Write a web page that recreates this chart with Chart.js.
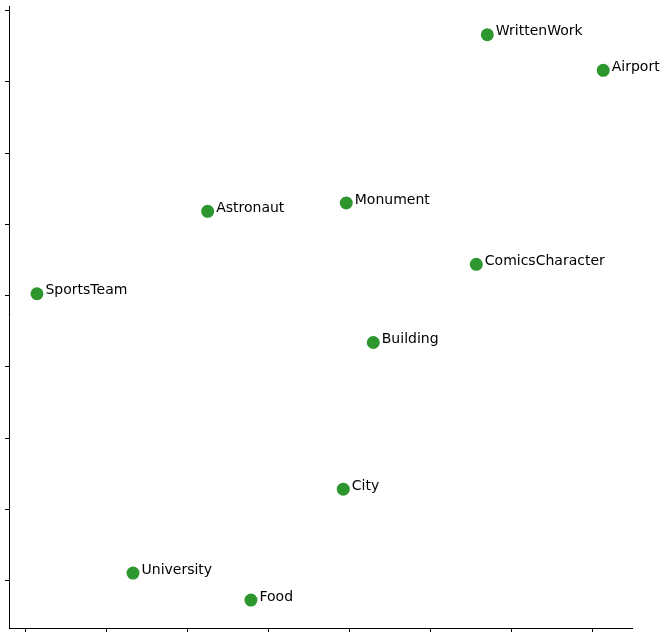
<!DOCTYPE html>
<html>
<head>
<meta charset="utf-8">
<script src="https://cdn.jsdelivr.net/npm/chart.js@4/dist/chart.umd.min.js"></script>
<style>
  html, body { margin: 0; padding: 0; background: #ffffff; }
  #wrap { width: 664px; height: 638px; }
</style>
</head>
<body>
<div id="wrap"><canvas id="c" width="664" height="638"></canvas></div>
<script>
// Data (arbitrary units; axis has no tick labels)
const categories = ["WrittenWork", "Airport", "Astronaut", "Monument", "ComicsCharacter",
                    "SportsTeam", "Building", "City", "University", "Food"];
const xValues = [5.70, 7.13, 2.25, 3.96, 5.564, 0.144, 4.293, 3.923, 1.329, 2.784];
const yValues = [7.66, 7.16, 5.182, 5.299, 4.439, 4.026, 3.342, 1.285, 0.108, -0.271];
const xTickValues = [0, 1, 2, 3, 4, 5, 6, 7];
const yTickValues = [0, 1, 2, 3, 4, 5, 6, 7, 8];

const points = categories.map((c, i) => ({ x: xValues[i], y: yValues[i], label: c }));

const labelPlugin = {
  id: 'pointLabels',
  afterDatasetsDraw(chart) {
    const ctx = chart.ctx;
    const meta = chart.getDatasetMeta(0);
    ctx.save();
    ctx.font = '14px "DejaVu Sans"';
    ctx.fillStyle = '#000000';
    ctx.textAlign = 'left';
    ctx.textBaseline = 'alphabetic';
    meta.data.forEach((el, i) => {
      ctx.fillText(categories[i], el.x + 8.5, el.y + 0.5);
    });
    ctx.restore();
  }
};

new Chart(document.getElementById('c'), {
  type: 'scatter',
  data: {
    datasets: [{
      data: points,
      backgroundColor: '#2e962e',
      borderWidth: 0,
      pointRadius: 6.5,
      pointHoverRadius: 6.5
    }]
  },
  options: {
    responsive: false,
    animation: false,
    devicePixelRatio: 1,
    events: [],
    layout: { padding: { left: 5, top: 6, right: 32, bottom: 6 } },
    plugins: { legend: { display: false }, tooltip: { enabled: false } },
    scales: {
      x: {
        type: 'linear',
        min: -0.201,
        max: 7.485,
        afterBuildTicks: (scale) => { scale.ticks = xTickValues.map(v => ({ value: v })); },
        ticks: { display: false },
        grid: { drawOnChartArea: false, drawTicks: true, tickLength: 4, tickColor: '#000000', tickWidth: 1 },
        border: { display: true, color: '#000000', width: 1 }
      },
      y: {
        type: 'linear',
        min: -0.663,
        max: 8.056,
        afterBuildTicks: (scale) => { scale.ticks = yTickValues.map(v => ({ value: v })); },
        ticks: { display: false },
        grid: { drawOnChartArea: false, drawTicks: true, tickLength: 4, tickColor: '#000000', tickWidth: 1 },
        border: { display: true, color: '#000000', width: 1 }
      }
    }
  },
  plugins: [labelPlugin]
});
</script>
</body>
</html>
